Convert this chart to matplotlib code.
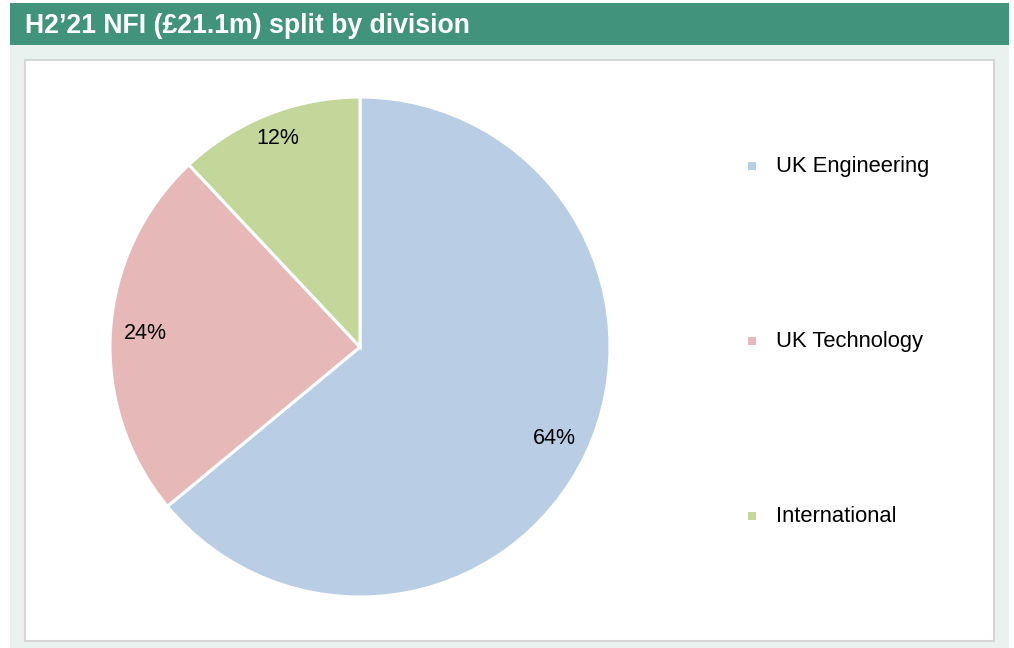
import matplotlib
matplotlib.use("Agg")
import matplotlib.pyplot as plt
from matplotlib.patches import Rectangle

plt.rcParams['font.family'] = ['Liberation Sans', 'DejaVu Sans']

# Division split of net fee income
divisions = ["UK Engineering", "UK Technology", "International"]
shares = [64, 24, 12]
colors = ["#b9cde5", "#e6b9b8", "#c4d79b"]
title = "H2\u201921 NFI (\u00a321.1m) split by division"

W, H = 1014, 648
fig = plt.figure(figsize=(W / 100, H / 100), dpi=100, facecolor="white")


def px_rect(x0, y0, x1, y1, **kw):
    """Rectangle given in pixel coordinates measured from the top-left."""
    r = Rectangle((x0 / W, 1 - y1 / H), (x1 - x0) / W, (y1 - y0) / H,
                  transform=fig.transFigure, **kw)
    fig.patches.append(r)
    return r


# Card background, header band and inner white panel
px_rect(10, 3, 1009, 648, facecolor="#e9f2ef", edgecolor="none", zorder=0)
px_rect(10, 3, 1009, 45, facecolor="#42937c", edgecolor="none", zorder=1)
px_rect(25, 60, 994, 641, facecolor="white", edgecolor="#d6d6d6",
        linewidth=1.5, zorder=1)

fig.text(25 / W, 1 - 26 / H, title, color="white", fontsize=19.2,
         fontweight="bold", ha="left", va="center", zorder=2)

# Pie chart
cx, cy, r = 360, 347, 250
ax = fig.add_axes([(cx - r) / W, 1 - (cy + r) / H, 2 * r / W, 2 * r / H])
ax.set_zorder(3)
wedges, texts, autotexts = ax.pie(
    shares, colors=colors, startangle=90, counterclock=False,
    autopct=lambda p: f"{p:.0f}%", pctdistance=0.86,
    wedgeprops=dict(edgecolor="white", linewidth=2.2),
    textprops=dict(fontsize=15.5, color="black"))
# the small slice's label sits a little closer to the rim
x, y = autotexts[2].get_position()
autotexts[2].set_position((x * 0.895 / 0.86, y * 0.895 / 0.86))
ax.set_xlim(-1, 1)
ax.set_ylim(-1, 1)
ax.set_aspect("equal")
ax.axis("off")

# Legend: small squares with labels down the right-hand side
for i, (name, col) in enumerate(zip(divisions, colors)):
    y = 166 + i * 175
    px_rect(748, y - 4, 756, y + 4, facecolor=col, edgecolor="none", zorder=4)
    fig.text(776 / W, 1 - (y + 1) / H, name, fontsize=15.8, color="black",
             ha="left", va="center", zorder=4)

fig.savefig("out.png", dpi=100, facecolor=fig.get_facecolor())
